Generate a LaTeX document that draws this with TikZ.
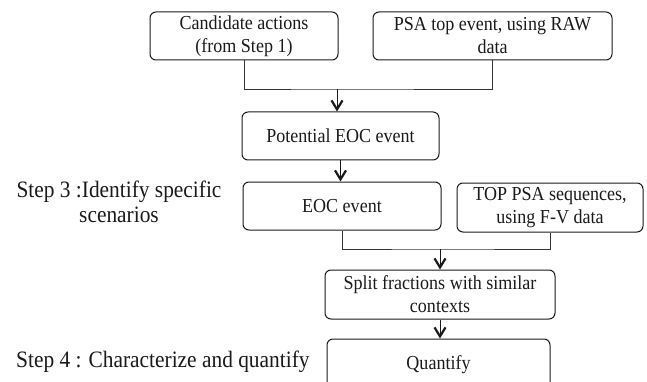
\documentclass[tikz,border=0pt]{standalone}
\usepackage{fontspec}
\setmainfont{Liberation Serif}[FakeStretch=0.91]
\usetikzlibrary{arrows.meta}
\definecolor{ink}{HTML}{1A1A1A}
\definecolor{lineink}{HTML}{333333}
\tikzset{
  box/.style={draw=ink, rounded corners=6pt, line width=1pt, align=center, inner sep=0pt,
    text=ink, font=\fontsize{19.8}{23}\selectfont},
  conn/.style={draw=lineink, line width=0.8pt},
  arr/.style={draw=ink, line width=1pt, -{Straight Barb[length=9pt,width=11pt,line width=2.2pt]}},
  steptext/.style={align=center, text=ink, font=\fontsize{23.5}{25}\selectfont, inner sep=0pt}
}
\begin{document}
\begin{tikzpicture}[x=1pt,y=-1pt]
\useasboundingbox (0,0) rectangle (647,382);
\clip (0,0) rectangle (647,382);
\node[box, minimum width=188pt, minimum height=48pt] (b1) at (244,36) {Candidate actions\\(from Step 1)};
\node[box, minimum width=239pt, minimum height=48pt] (b2) at (492.5,36) {PSA top event, using RAW\\data};
\node[box, minimum width=197pt, minimum height=48pt] (pot) at (340.5,136) {Potential EOC event};
\node[box, minimum width=198pt, minimum height=48pt] (eoc) at (342,206) {EOC event};
\node[box, minimum width=186pt, minimum height=49pt] (top) at (550,207.5) {TOP PSA sequences,\\using F-V data};
\node[box, minimum width=230pt, minimum height=49pt] (split) at (440,294.5) {Split fractions with similar\\contexts};
\node[box, minimum width=223pt, minimum height=52pt] (q) at (438.5,365) {Quantify};
\node[steptext] (s3) at (119,202) {Step 3 :Identify specific\\scenarios};
\node[steptext, anchor=west] (s4) at (16,362) {Step 4 : Characterize and quantify};
\coordinate (j1) at (337,89);
\coordinate (j2) at (440,249);
\draw[conn] (b1.south) |- (j1) -| (b2.south);
\draw[arr] (j1) -- (j1 |- pot.north);
\draw[arr] (pot.south) -- (pot.south |- eoc.north);
\draw[conn] (eoc.south) |- (j2) -| (top.south);
\draw[arr] (j2) -- (j2 |- split.north);
\draw[arr] (split.south) -- (split.south |- q.north);
\end{tikzpicture}
\end{document}
